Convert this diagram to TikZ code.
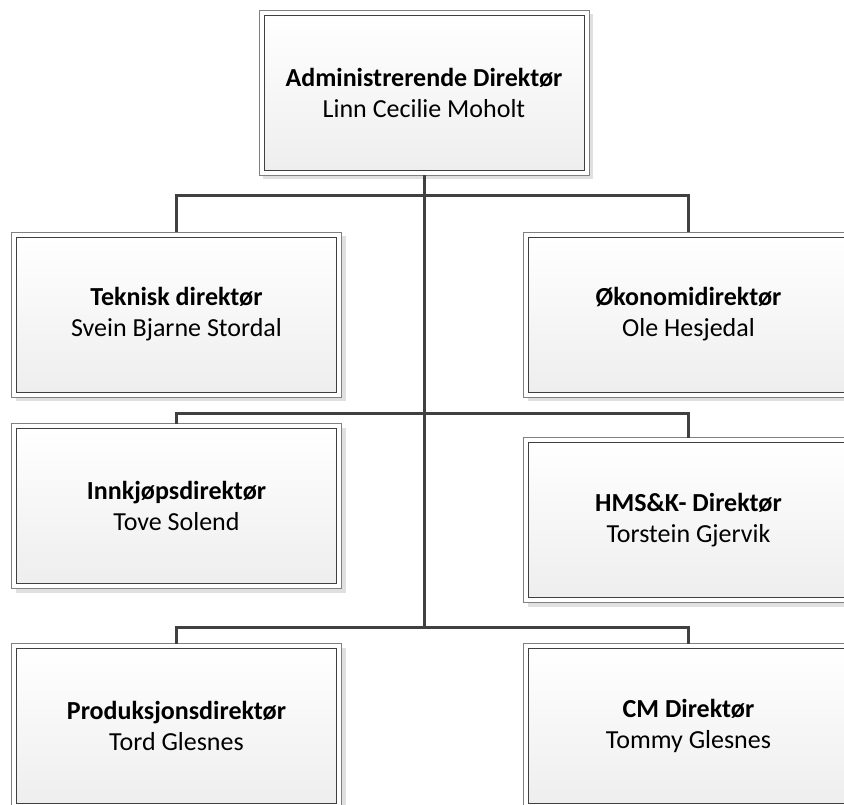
\documentclass[tikz,border=0pt]{standalone}
\usepackage{fontspec}
\setmainfont{Carlito}
\usetikzlibrary{backgrounds}
\definecolor{linec}{HTML}{404040}
\definecolor{framec}{HTML}{808080}
\definecolor{shadowc}{HTML}{E0E0E0}
\definecolor{fillbot}{HTML}{EEEEEE}
\tikzset{
  orgbox/.style={rectangle, draw=linec, line width=0.8pt,
    top color=white, bottom color=fillbot,
    minimum width=320pt, minimum height=155pt, outer sep=5pt,
    align=center, font=\fontsize{26}{31}\selectfont, inner sep=0pt},
  conn/.style={draw=linec, line width=3pt},
}
\begin{document}
\begin{tikzpicture}[x=1pt,y=-1pt]
\useasboundingbox (0,0) rectangle (844,805);
\clip (0,0) rectangle (844,805);
\node[orgbox] (ad)  at (424,92.5)   {\textbf{Administrerende Direktør}\\Linn Cecilie Moholt};
\node[orgbox] (tek) at (176.5,314.5) {\textbf{Teknisk direktør}\\ Svein Bjarne Stordal};
\node[orgbox] (oko) at (688.5,314.5) {\textbf{Økonomidirektør}\\Ole Hesjedal};
\node[orgbox] (inn) at (176.5,506)   {\textbf{Innkjøpsdirektør}\\Tove Solend};
\node[orgbox] (hms) at (688.5,520)   {\textbf{HMS\&K- Direktør}\\ Torstein Gjervik};
\node[orgbox] (pro) at (176.5,726)   {\textbf{Produksjonsdirektør}\\Tord Glesnes};
\node[orgbox] (cm)  at (688.5,726)   {\textbf{CM Direktør}\\Tommy Glesnes};
\begin{scope}[on background layer]
\foreach \n in {ad,tek,oko,inn,hms,pro,cm}{
  \fill[shadowc] ([shift={(4,4)}]\n.north west) rectangle ([shift={(4,4)}]\n.south east);
  \draw[framec, fill=white, line width=0.8pt] (\n.north west) rectangle (\n.south east);
}
\end{scope}
\coordinate (b1) at (424,196);
\coordinate (b2) at (424,413);
\coordinate (b3) at (424,627);
\draw[conn] (tek.north) |- (b1) -| (oko.north);
\draw[conn] (inn.north) |- (b2) -| (hms.north);
\draw[conn] (pro.north) |- (b3) -| (cm.north);
\draw[conn] (ad.south) -- (b3);
\end{tikzpicture}
\end{document}
